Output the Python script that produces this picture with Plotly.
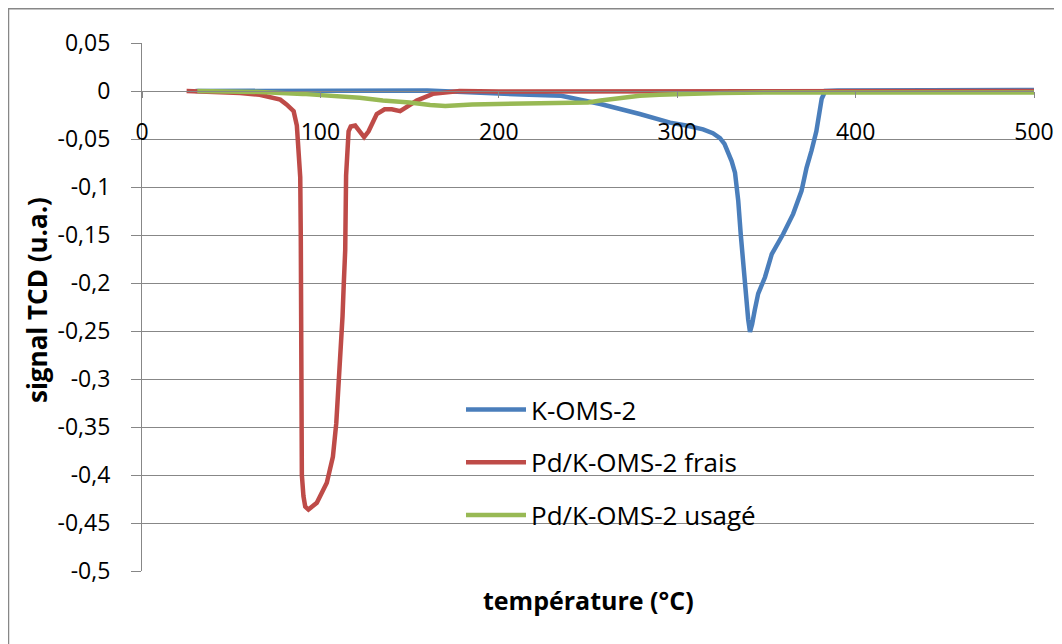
import plotly.graph_objects as go

# ---- data ----
k_oms_T = [30, 50, 80, 100, 130, 160, 180, 200, 217, 235, 257, 279, 296, 305, 314.5, 320, 324,
           326.5, 328.6, 330.5, 332.4, 334.2, 335.6, 337, 338.9, 339.8, 340.8, 342, 343.5, 345.4,
           349.2, 353, 359.4, 365, 369.7, 372.5, 375.3, 378, 381, 383, 390, 420, 450, 480, 500]
k_oms_v = [0, 0, 0.001, 0.001, 0.001, 0.0005, -0.001, -0.003, -0.004, -0.005, -0.0135, -0.024,
           -0.033, -0.036, -0.040, -0.044, -0.049, -0.055, -0.064, -0.073, -0.085, -0.114, -0.149,
           -0.183, -0.218, -0.238, -0.251, -0.243, -0.228, -0.211, -0.194, -0.170, -0.149, -0.128,
           -0.104, -0.080, -0.062, -0.042, -0.008, 0, 0.0005, 0.0005, 0.001, 0.001, 0.001]

frais_T = [25, 40, 55, 66, 72, 77.5, 81, 85, 86.8, 88, 88.7, 89.0, 89.2, 89.3, 89.6, 90.5, 91.5,
           93.3, 98, 103.6, 107, 108.9, 110.1, 111.5, 112.4, 113.1, 113.9, 114.4, 115, 115.8, 117,
           119.5, 122, 124.5, 127, 129.5, 131.6, 136, 140, 144.7, 148, 154, 163, 178, 200, 250,
           300, 350, 400, 450, 500]
frais_v = [0, -0.001, -0.002, -0.004, -0.006, -0.009, -0.014, -0.021, -0.036, -0.071, -0.09,
           -0.15, -0.25, -0.35, -0.40, -0.422, -0.433, -0.436, -0.429, -0.408, -0.381, -0.346,
           -0.312, -0.277, -0.235, -0.201, -0.166, -0.088, -0.06, -0.042, -0.037, -0.036, -0.042,
           -0.048, -0.042, -0.032, -0.024, -0.019, -0.019, -0.021, -0.017, -0.010, -0.003, 0,
           -0.0005, -0.0005, -0.0005, 0, 0, 0, 0]

usage_T = [31, 50, 66, 90, 100, 110, 122, 135, 143, 150, 161.5, 170, 185, 200, 217, 235, 250,
           257, 268, 279, 290, 301.5, 324, 350, 400, 450, 500]
usage_v = [0, -0.0005, -0.001, -0.003, -0.004, -0.0055, -0.007, -0.010, -0.011, -0.012, -0.0145,
           -0.0155, -0.014, -0.0135, -0.014, -0.0135, -0.012, -0.010, -0.007, -0.005, -0.004,
           -0.003, -0.002, -0.0015, -0.0015, -0.0015, -0.0015]

series_names = ["K-OMS-2", "Pd/K-OMS-2 frais", "Pd/K-OMS-2 usagé"]
series_colors = ["#4A7EBB", "#BE4B48", "#98B954"]

x_ticks = [0, 100, 200, 300, 400, 500]
y_ticks = [0.05, 0, -0.05, -0.1, -0.15, -0.2, -0.25, -0.3, -0.35, -0.4, -0.45, -0.5]
y_tick_text = [("%g" % v).replace(".", ",") for v in y_ticks]

FONT = "Open Sans"
GRID = "#878787"

fig = go.Figure()
for T, v, name, col in zip([k_oms_T, frais_T, usage_T], [k_oms_v, frais_v, usage_v],
                           series_names, series_colors):
    fig.add_trace(go.Scatter(x=T, y=v, mode="lines", name=name, legendgroup=name,
                             line=dict(color=col, width=4.5)))

# page body adds an 8px offset; target screen positions are converted below
OFF = 8
W, H = 1062, 644
L = 142 - OFF
T_ = 43 - OFF
R = W - (1034 - OFF)
B = H - (571 - OFF)
PW, PH = W - L - R, H - T_ - B


def px(xs):
    return (xs - OFF - L) / PW


def py(ys):
    return (H - B - (ys - OFF)) / PH


fig.update_layout(
    width=W, height=H,
    margin=dict(l=L, r=R, t=T_, b=B),
    paper_bgcolor="white", plot_bgcolor="white",
    font=dict(family=FONT, size=23, color="black"),
    showlegend=True,
    legend=dict(x=px(461), y=py(386),
                xanchor="left", yanchor="top", bgcolor="rgba(0,0,0,0)",
                font=dict(family=FONT, size=26, color="black"),
                tracegroupgap=16, traceorder="grouped", itemwidth=60),
    xaxis=dict(range=[0, 500], tickvals=x_ticks, ticktext=[str(t) for t in x_ticks],
               anchor="free", position=0.5 / 0.55, showgrid=False, zeroline=False,
               showline=True, linecolor=GRID, linewidth=1.2,
               ticks="outside", ticklen=6, tickcolor=GRID, tickwidth=1.2,
               ticklabelstandoff=14, tickfont=dict(family=FONT, size=23, color="black")),
    yaxis=dict(range=[-0.5, 0.05], tickvals=y_ticks, ticktext=y_tick_text,
               showgrid=True, gridcolor=GRID, gridwidth=1.2, zeroline=False,
               showline=True, linecolor=GRID, linewidth=1.2,
               ticks="outside", ticklen=10, tickcolor=GRID, tickwidth=1.2,
               ticklabelstandoff=16, tickfont=dict(family=FONT, size=23, color="black")),
    annotations=[
        dict(text="<b>température (°C)</b>", xref="paper", yref="paper",
             x=0.5, y=py(600), xanchor="center", yanchor="middle",
             showarrow=False, font=dict(family=FONT, size=25, color="black")),
        dict(text="<b>signal TCD (u.a.)</b>", xref="paper", yref="paper",
             x=px(37), y=py(300), xanchor="center", yanchor="middle", textangle=-90,
             showarrow=False, font=dict(family=FONT, size=26, color="black")),
    ],
    shapes=[
        dict(type="rect", xref="paper", yref="paper",
             x0=px(8.5), x1=px(1056), y0=py(680), y1=py(8.8),
             line=dict(color=GRID, width=1.5), layer="below"),
        # white legend background covering the gridlines
        dict(type="rect", xref="paper", yref="paper",
             x0=px(455), x1=px(768), y0=py(545), y1=py(388),
             fillcolor="white", line=dict(width=0), layer="between"),
    ],
)

fig.write_html("out.html")
